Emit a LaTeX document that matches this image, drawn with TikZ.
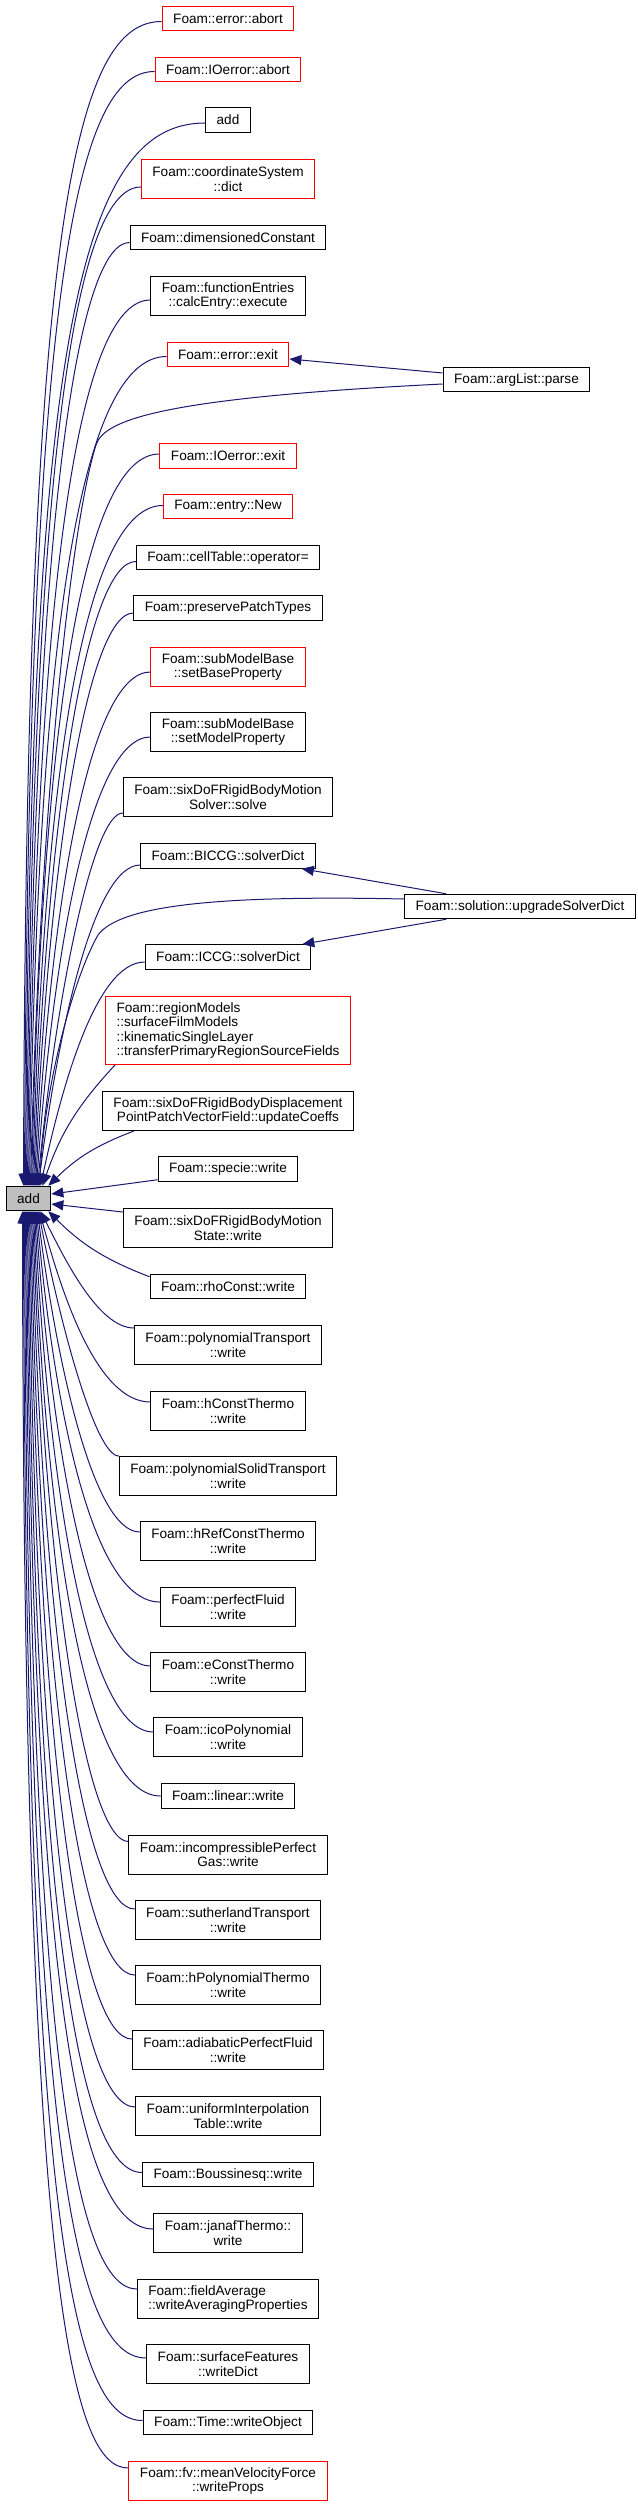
\documentclass[tikz,border=0pt]{standalone}
\usepackage{fontspec}
\usepackage{xcolor}
\usepackage{tikz}
\usetikzlibrary{calc, arrows.meta, positioning}
\newfontfamily\dxfont{Liberation Sans}
\definecolor{edgeblue}{HTML}{191970}
\definecolor{rootgray}{HTML}{BFBFBF}
\tikzset{
  box/.style={draw=black, fill=white, line width=1pt, inner xsep=11pt, inner ysep=2pt,
    font=\dxfont\fontsize{13.6}{14.5}\selectfont},
  edge/.style={edgeblue, line width=1pt, -{Triangle[length=12pt,width=10pt]}},
}

\begin{document}
\begin{tikzpicture}[x=1pt, y=-1pt]
                % 1. Khung hình
                \useasboundingbox (0,0) rectangle (637,2507);

                % 2. Nút gốc
                \node[box, fill=rootgray, minimum height=24.5] (add) at (28.5,1198.5) {add};

                % 3. Các hàm gọi
                \foreach \yy/\nm/\lbl/\col/\nl/\al in {
                    18.5/errabort/{Foam::error::abort}/red/1/center,
                    69.5/ioerrabort/{Foam::IOerror::abort}/red/1/center,
                    120/addother/{add}/black/1/center,
                    179/coordict/{Foam::coordinateSystem\\::dict}/red/2/center,
                    237.5/dimconst/{Foam::dimensionedConstant}/black/1/center,
                    296/calcexec/{Foam::functionEntries\\::calcEntry::execute}/black/2/center,
                    354.5/errexit/{Foam::error::exit}/red/1/center,
                    456/ioerrexit/{Foam::IOerror::exit}/red/1/center,
                    506.5/entrynew/{Foam::entry::New}/red/1/center,
                    557.5/celltable/{Foam::cellTable::operator=}/black/1/center,
                    608/preserve/{Foam::preservePatchTypes}/black/1/center,
                    667/setbase/{Foam::subModelBase\\::setBaseProperty}/red/2/center,
                    732/setmodel/{Foam::subModelBase\\::setModelProperty}/black/2/center,
                    797/motionsolve/{Foam::sixDoFRigidBodyMotion\\Solver::solve}/black/2/center,
                    856/biccg/{Foam::BICCG::solverDict}/black/1/center,
                    957/iccg/{Foam::ICCG::solverDict}/black/1/center,
                    1030.5/transfer/{Foam::regionModels\\::surfaceFilmModels\\::kinematicSingleLayer\\::transferPrimaryRegionSourceFields}/red/4/left,
                    1111/updcoeffs/{Foam::sixDoFRigidBodyDisplacement\\PointPatchVectorField::updateCoeffs}/black/2/center,
                    1169/specie/{Foam::specie::write}/black/1/center,
                    1228/motionstate/{Foam::sixDoFRigidBodyMotion\\State::write}/black/2/center,
                    1286.5/rhoconst/{Foam::rhoConst::write}/black/1/center,
                    1345/polytrans/{Foam::polynomialTransport\\::write}/black/2/center,
                    1411/hconst/{Foam::hConstThermo\\::write}/black/2/center,
                    1476/polysolid/{Foam::polynomialSolidTransport\\::write}/black/2/center,
                    1541/hrefconst/{Foam::hRefConstThermo\\::write}/black/2/center,
                    1607/perfectfluid/{Foam::perfectFluid\\::write}/black/2/center,
                    1672/econst/{Foam::eConstThermo\\::write}/black/2/center,
                    1737/icopoly/{Foam::icoPolynomial\\::write}/black/2/center,
                    1796/linear/{Foam::linear::write}/black/1/center,
                    1854.5/incompgas/{Foam::incompressiblePerfect\\Gas::write}/black/2/center,
                    1920/sutherland/{Foam::sutherlandTransport\\::write}/black/2/center,
                    1985/hpoly/{Foam::hPolynomialThermo\\::write}/black/2/center,
                    2050/adiabatic/{Foam::adiabaticPerfectFluid\\::write}/black/2/center,
                    2116/uniform/{Foam::uniformInterpolation\\Table::write}/black/2/center,
                    2174.5/boussinesq/{Foam::Boussinesq::write}/black/1/center,
                    2233/janaf/{Foam::janafThermo::\\write}/black/2/center,
                    2299/fieldavg/{Foam::fieldAverage\\::writeAveragingProperties}/black/2/left,
                    2364/surffeat/{Foam::surfaceFeatures\\::writeDict}/black/2/center,
                    2422.5/timewrite/{Foam::Time::writeObject}/black/1/center,
                    2481/meanvel/{Foam::fv::meanVelocityForce\\::writeProps}/red/2/center} {
                    \node[box, draw=\col, align=\al, minimum height={14.5*\nl+10}] (\nm) at (228,\yy) {\lbl};
                }

                % 4. Hàm gọi cấp hai
                \node[box, minimum height=24.5] (parse) at (516.5,379.5) {Foam::argList::parse};
                \node[box, minimum height=24.5] (usd) at (520,906.5) {Foam::solution::upgradeSolverDict};

                % 5. Mũi tên tới add
                \foreach \nm/\dx/\side/\sy in {errabort/-5/north/-3, ioerrabort/-4/north/-2,
                    addother/-3/north/-3, coordict/-2/north/-8, dimconst/-1/north/-5,
                    calcexec/0/north/-4, errexit/1/north/-2, ioerrexit/3/north/2,
                    entrynew/4/north/1, celltable/5/north/-4, preserve/6/north/-5,
                    setbase/7/north/-5, setmodel/8/north/-5, motionsolve/9/north/-16,
                    biccg/10/north/-9, iccg/12/north/-5,
                    polytrans/12/south/17, hconst/11/south/9, polysolid/10/south/20,
                    hrefconst/9/south/9, perfectfluid/8/south/5, econst/7/south/6,
                    icopoly/6/south/5, linear/5/south/0, incompgas/4/south/13,
                    sutherland/3/south/11, hpoly/2/south/10, adiabatic/1/south/11,
                    uniform/0/south/9, boussinesq/-1/south/2, janaf/-2/south/4,
                    fieldavg/-3/south/10, surffeat/-4/south/6, timewrite/-5/south/2,
                    meanvel/-6/south/13} {
                    \draw[edge] let \p1=([yshift=\sy pt]\nm.west), \p2=([xshift=\dx pt]add.\side),
                        \n1={abs(\y1-\y2)/1200}, \n2={\y1-\y2} in
                        (\p1) .. controls ({100pt-25pt*\n1},\y1)
                        and ({\x2+25pt*(1-\n1)+2pt*\n1},{\y2+\n2*(0.33+0.52*\n1)}) .. (\p2);
                }
                \draw[edge] ([xshift=10pt]transfer.south west) to[bend right=12] ([xshift=14pt]add.north);
                \draw[edge] ([xshift=32pt]updcoeffs.south west) to[bend right=12] ([xshift=-3pt]add.north east);
                \draw[edge] ([yshift=2pt]specie.south west) -- ([yshift=4.5pt]add.east);
                \draw[edge] ([yshift=-4pt]motionstate.north west) -- ([yshift=-5.5pt]add.east);
                \draw[edge] ([yshift=-3pt]rhoconst.north west) to[bend left=12] ([xshift=-3pt]add.south east);

                % 6. Mũi tên từ hàm cấp hai
                \draw[edge] ([yshift=6.5pt]parse.west) -- ([yshift=-4.5pt]errexit.east);
                \draw[edge] ([yshift=-4.5pt]parse.west) .. controls (160,398) and (104,420) .. (96,445)
                    .. controls (72,520) and (40,800) .. ([xshift=2pt]add.north);
                \draw[edge] ([xshift=42pt]usd.north west) -- ([xshift=-14pt]biccg.south east);
                \draw[edge] ([xshift=42pt]usd.south west) -- ([xshift=-9pt]iccg.north east);
                \draw[edge] ([yshift=7.5pt]usd.west) .. controls (220,895) and (120,905) .. (98,935)
                    .. controls (75,975) and (45,1080) .. ([xshift=11pt]add.north);
            \end{tikzpicture}
\end{document}
